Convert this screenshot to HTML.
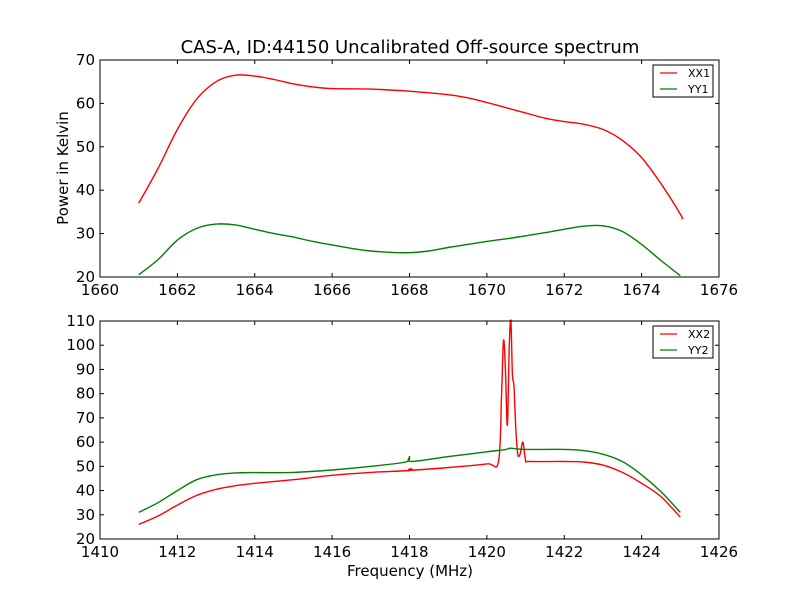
<!DOCTYPE html>
<html><head><meta charset="utf-8"><style>
body{margin:0;background:#fff}
svg text{font-family:"DejaVu Sans","Liberation Sans",sans-serif;fill:#000}
</style></head><body>
<svg id="c" width="800" height="600" xmlns="http://www.w3.org/2000/svg">
<rect width="800" height="600" fill="#fff"/>
<text x="410" y="53" font-size="18" text-anchor="middle">CAS-A, ID:44150 Uncalibrated Off-source spectrum</text>
<text x="68" y="168" font-size="15" text-anchor="middle" transform="rotate(-90 68 168)">Power in Kelvin</text>
<text x="410" y="576" font-size="15" text-anchor="middle">Frequency (MHz)</text>
</svg>
<script>
const xx1F=[1661,1661.5,1662,1662.5,1663,1663.5,1664,1664.5,1665,1665.5,1666,1667,1668,1669,1669.5,1670,1670.5,1671,1671.5,1672,1672.5,1673,1673.5,1674,1674.5,1675,1675.05];
const xx1V=[37,45,54,61,65,66.5,66.3,65.5,64.5,63.8,63.4,63.3,62.8,62,61.3,60.2,59,57.8,56.6,55.8,55.2,54,51.5,47.5,41.5,34.5,33.3];
const yy1F=[1661,1661.5,1662,1662.5,1663,1663.5,1664,1664.5,1665,1665.5,1666,1666.5,1667,1667.5,1668,1668.5,1669,1669.5,1670,1670.5,1671,1671.5,1672,1672.5,1673,1673.5,1674,1674.5,1675];
const yy1V=[20.5,24,28.5,31.2,32.2,32,31,30,29.2,28.2,27.4,26.6,26,25.7,25.6,26,26.8,27.5,28.2,28.8,29.5,30.2,31,31.7,31.8,30.5,27.5,23.8,20.3];
const xx2F=[1411,1411.5,1412,1412.5,1413,1413.5,1414,1415,1416,1417,1418,1418.02,1418.05,1419,1420,1420.3,1420.38,1420.43,1420.48,1420.53,1420.58,1420.62,1420.66,1420.7,1420.75,1420.8,1420.86,1420.93,1421,1421.1,1422,1422.5,1423,1423.5,1424,1424.5,1425];
const xx2V=[26,29.5,34,38,40.5,42,43,44.5,46.3,47.5,48.3,49,48.4,49.5,51,52,80,102,90,67,100,110,88,83,65,55,55,60,52.5,52,52,51.8,50.5,47.5,43,37.5,29];
const yy2F=[1411,1411.5,1412,1412.5,1413,1413.5,1414,1415,1416,1417,1417.9,1418,1418.05,1419,1420,1420.5,1420.6,1421,1422,1422.5,1423,1423.5,1424,1424.5,1425];
const yy2V=[31,35,40,44.5,46.5,47.3,47.4,47.5,48.5,50,51.8,54,52,54,56,57,57.5,57,57,56.5,55,52,46.5,39.5,31];
const topXTicks=[1660,1662,1664,1666,1668,1670,1672,1674,1676];
const topYTicks=[20,30,40,50,60,70];
const botXTicks=[1410,1412,1414,1416,1418,1420,1422,1424,1426];
const botYTicks=[20,30,40,50,60,70,80,90,100,110];
const NS="http://www.w3.org/2000/svg",svg=document.getElementById('c');
function el(t,a,p){const e=document.createElementNS(NS,t);for(const k in a)e.setAttribute(k,a[k]);(p||svg).appendChild(e);return e;}
function smooth(pts){
  let d='M'+pts[0][0].toFixed(1)+','+pts[0][1].toFixed(1);
  for(let i=0;i<pts.length-1;i++){
    const p0=pts[Math.max(0,i-1)],p1=pts[i],p2=pts[i+1],p3=pts[Math.min(pts.length-1,i+2)];
    const t=1/6;
    const c1=[p1[0]+(p2[0]-p0[0])*t,p1[1]+(p2[1]-p0[1])*t];
    const c2=[p2[0]-(p3[0]-p1[0])*t,p2[1]-(p3[1]-p1[1])*t];
    d+=' C'+c1.map(v=>v.toFixed(1)).join(',')+' '+c2.map(v=>v.toFixed(1)).join(',')+' '+p2[0].toFixed(1)+','+p2[1].toFixed(1);
  }
  return d;
}
function panel(name,L,T,R,B,x0,x1,y0,y1,xt,yt,series){
  const g=el('g',{});
  
  
  const sx=v=>L+(v-x0)/(x1-x0)*(R-L), sy=v=>B-(v-y0)/(y1-y0)*(B-T);
  series.forEach(s=>{
    const p=el('path',{d:smooth(s.f.map((f,i)=>[sx(f),sy(s.v[i])])),fill:'none',stroke:s.c,'stroke-width':1.4},g);
    
    
  });
  el('rect',{x:L,y:T,width:R-L,height:B-T,fill:'none',stroke:'#000','stroke-width':1},g);
  xt.forEach(v=>{const x=sx(v);
    el('line',{x1:x,x2:x,y1:B,y2:B-4,stroke:'#000'},g);el('line',{x1:x,x2:x,y1:T,y2:T+4,stroke:'#000'},g);
    const t=el('text',{x:x,y:B+18,'font-size':15,'text-anchor':'middle'},g);t.textContent=v;
    
    });
  yt.forEach(v=>{const y=sy(v);
    el('line',{x1:L,x2:L+4,y1:y,y2:y,stroke:'#000'},g);el('line',{x1:R,x2:R-4,y1:y,y2:y,stroke:'#000'},g);
    const t=el('text',{x:L-5,y:y+5,'font-size':15,'text-anchor':'end'},g);t.textContent=v;
    
    });
  const lg=el('g',{},g);
  
  
  el('rect',{x:653,y:T+5,width:60,height:32,fill:'#fff',stroke:'#000'},lg);
  series.forEach((s,i)=>{const y=T+13+i*16;
    el('line',{x1:660,x2:677,y1:y,y2:y,stroke:s.c,'stroke-width':1.3},lg);
    const t=el('text',{x:688,y:y+4,'font-size':11},lg);t.textContent=s.n;
    
    });
}
panel('top-panel',100,60,719,277,1660,1676,20,70,topXTicks,topYTicks,[{n:'XX1',c:'#ff0000',f:xx1F,v:xx1V},{n:'YY1',c:'#008000',f:yy1F,v:yy1V}]);
panel('bottom-panel',100,321,719,539,1410,1426,20,110,botXTicks,botYTicks,[{n:'XX2',c:'#ff0000',f:xx2F,v:xx2V},{n:'YY2',c:'#008000',f:yy2F,v:yy2V}]);
</script>
</body></html>
